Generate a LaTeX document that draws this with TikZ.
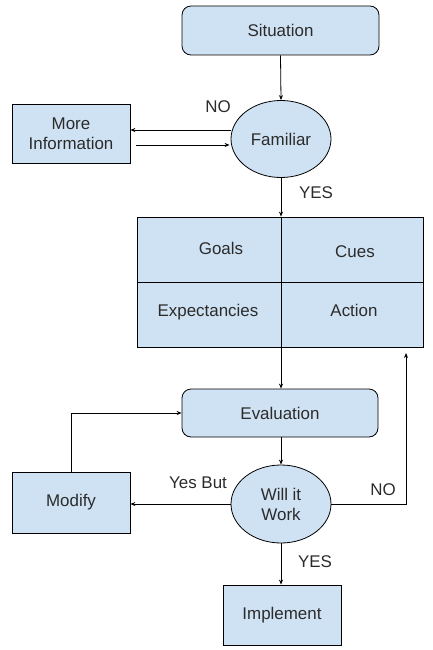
\documentclass[tikz,border=0pt]{standalone}
\usepackage{fontspec}
\setmainfont{Liberation Sans}
\usetikzlibrary{shapes.geometric,arrows.meta}
\definecolor{boxfill}{HTML}{CFE2F3}
\definecolor{ink}{HTML}{2B2B2B}
\begin{document}
\begin{tikzpicture}[x=1bp,y=-1bp,
  every node/.style={font=\fontsize{17}{20}\selectfont, text=ink, align=center, inner sep=0pt},
  box/.style={draw=black, line width=0.8bp, fill=boxfill},
  roundbox/.style={box, rounded corners=9bp},
  oval/.style={box, ellipse},
  flow/.style={draw=black, line width=0.8bp, -{Stealth[length=5bp,width=4bp]}},
  plain/.style={draw=black, line width=0.8bp},
  tag/.style={font=\fontsize{17}{20}\selectfont}]
\useasboundingbox (0,0) rectangle (433,650);

% boxes
\node[roundbox, minimum width=197bp, minimum height=49bp] (sit) at (280.5,30.5) {Situation};
\node[oval, minimum width=100bp, minimum height=77bp] (fam) at (281,139) {Familiar};
\node[box, minimum width=118bp, minimum height=59bp] (info) at (71,133.5) {More\\Information};
\node[box, minimum width=286bp, minimum height=130bp] (grid) at (280,282) {};
\node[roundbox, minimum width=196bp, minimum height=48bp] (eval) at (280,413) {Evaluation};
\node[oval, minimum width=100bp, minimum height=78bp] (will) at (281,504) {Will it\\Work};
\node[box, minimum width=118bp, minimum height=61bp] (mod) at (71,502.5) {Modify};
\node[box, minimum width=118bp, minimum height=60bp] (impl) at (282,615) {Implement};

% grid cells
\draw[plain] (grid.north -| 281,0) -- (grid.south -| 281,0);
\draw[plain] (grid.west |- 0,282) -- (grid.east |- 0,282);
\node (goals) at (221,248) {Goals};
\node (cues) at (355,252) {Cues};
\node (expect) at (208,312) {Expectancies};
\node (action) at (354,310) {Action};

% connectors
\draw[flow] (sit.south) -- (fam.north);
\draw[flow] (fam.west |- 0,130) -- (info.east |- 0,130) coordinate (noend);
\draw[flow] ([xshift=6bp]info.east |- 0,145) -- ([xshift=-1bp]fam.west |- 0,145);
\node[tag] (nofam) at (218,107) {NO};
\draw[flow] (fam.south) -- (grid.north -| fam.south);
\node[tag] (yesfam) at (316,193) {YES};
\draw[flow] (grid.south -| 281,0) -- (eval.north -| 281,0);
\draw[flow] (eval.south -| 281,0) -- (will.north);
\draw[flow] (will.west) -- (mod.east |- will.west);
\node[tag] (yesbut) at (198,483) {Yes But};
\draw[flow] (mod.north) |- (eval.west);
\coordinate (back) at (406,353);
\draw[flow] (will.east) -| (back);
\node[tag] (nowill) at (383,490) {NO};
\draw[flow] (will.south) -- (impl.north -| will.south);
\node[tag] (yeswill) at (315,562) {YES};
\end{tikzpicture}
\end{document}
